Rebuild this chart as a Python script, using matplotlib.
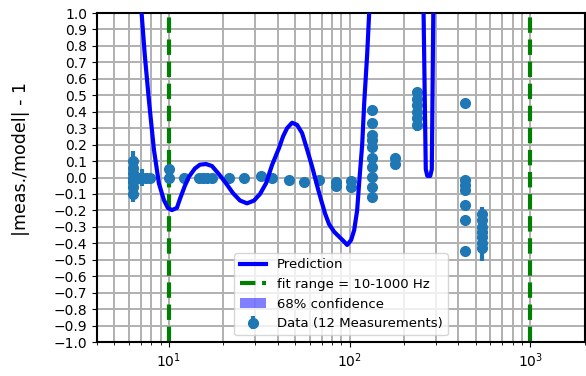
import matplotlib
matplotlib.use("Agg")
import matplotlib.pyplot as plt
from matplotlib.ticker import MultipleLocator

# prediction curve (Hz, |meas./model| - 1)
pred_freq = [6.82, 7.06, 7.36, 7.75, 8.26, 8.80, 9.38, 9.87, 10.39, 11.07,
             11.51, 12.26, 12.91, 13.93, 14.85, 16.03, 17.30, 18.92, 20.69, 22.62,
             24.74, 27.05, 29.58, 31.93, 34.47, 37.21, 40.69, 42.82, 45.06, 48.02,
             51.19, 54.56, 58.15, 61.98, 66.06, 69.52, 73.16, 77.0, 82.07, 87.47,
             93.22, 96.85, 101.9, 105.9, 110.0, 112.9, 117.3, 120.3, 125.0, 128.2,
             134.9, 190.0, 248.9, 256.4, 263.7, 268.8, 279.3, 284.7, 290.2, 297.7]
pred_val = [1.20, 1.00, 0.74, 0.47, 0.17, -0.035, -0.137, -0.185, -0.198, -0.185,
            -0.13, -0.05, 0.005, 0.055, 0.078, 0.082, 0.07, 0.02, -0.035, -0.095,
            -0.14, -0.157, -0.14, -0.10, -0.035, 0.076, 0.18, 0.25, 0.30, 0.333,
            0.32, 0.27, 0.17, 0.066, -0.05, -0.137, -0.22, -0.285, -0.33, -0.36,
            -0.39, -0.41, -0.38, -0.32, -0.2, -0.03, 0.2, 0.45, 0.75, 1.0,
            1.5, 3.0, 1.5, 1.0, 0.05, 0.01, 0.01, 0.05, 1.0, 1.5]

# measurements
data_freq = [6.32, 6.32, 6.32, 6.32, 6.32, 6.32, 6.32,
             6.75, 7.1, 7.5, 7.9, 10.0, 10.0,
             12.1, 14.7, 15.5, 16.3, 17.3, 21.5, 26.0, 32.3, 37.2, 46.2,
             56.0, 67.8, 84.2, 84.2, 102, 102,
             133, 133, 133, 133, 133, 133, 133, 133, 133, 133,
             178, 178,
             237, 237, 237, 237, 237, 237,
             435, 435, 435, 435, 435, 435, 435,
             542, 542, 542, 542, 542, 542, 542]
data_val = [0.10, 0.06, 0.03, 0.0, -0.03, -0.06, -0.10,
            0.0, 0.0, -0.005, 0.0, 0.05, 0.0,
            0.0, -0.005, -0.005, -0.005, -0.005, 0.0, 0.0, 0.01, 0.0, -0.015,
            -0.025, -0.015, -0.03, -0.05, -0.02, -0.055,
            0.41, 0.33, 0.258, 0.228, 0.187, 0.117, 0.066, 0.005, -0.056, -0.117,
            0.12, 0.08,
            0.52, 0.48, 0.44, 0.40, 0.36, 0.32,
            0.45, -0.015, -0.045, -0.075, -0.167, -0.258, -0.445,
            -0.22, -0.26, -0.30, -0.33, -0.36, -0.40, -0.43]
data_err = [0.06, 0.02, 0.02, 0.02, 0.02, 0.02, 0.05,
            0.03, 0.05, 0.02, 0.01, 0.02, 0.01,
            0.01, 0.01, 0.01, 0.01, 0.01, 0.01, 0.01, 0.01, 0.01, 0.01,
            0.01, 0.01, 0.01, 0.01, 0.01, 0.01,
            0.01, 0.01, 0.01, 0.01, 0.01, 0.01, 0.01, 0.01, 0.01, 0.01,
            0.01, 0.01,
            0.02, 0.02, 0.02, 0.02, 0.03, 0.04,
            0.01, 0.01, 0.01, 0.01, 0.01, 0.01, 0.01,
            0.04, 0.02, 0.02, 0.02, 0.02, 0.02, 0.08]

fit_range = [10, 1000]

fig = plt.figure(figsize=(5.86, 3.76), dpi=100)
ax = fig.add_axes([0.1655, 0.0904, 0.8325, 0.875])

ax.plot(pred_freq, pred_val, color="blue", lw=3, label="Prediction", zorder=4)
ax.axvline(fit_range[0], color="green", ls="--", lw=3,
           label="fit range = %d-%d Hz" % (fit_range[0], fit_range[1]))
ax.axvline(fit_range[1], color="green", ls="--", lw=3)
ax.fill_between(pred_freq, pred_val, pred_val, color="blue", alpha=0.5,
                lw=0, label="68% confidence")
ax.errorbar(data_freq, data_val, yerr=data_err, fmt="o", color="C0", ms=7,
            elinewidth=3, capsize=0, label="Data (12 Measurements)", zorder=3)

ax.set_xscale("log")
ax.set_xlim(4, 2000)
ax.set_ylim(-1, 1)
ax.yaxis.set_major_locator(MultipleLocator(0.1))
ax.grid(True, which="both", color="#b0b0b0", lw=1.4)
ax.set_axisbelow(True)
for s in ax.spines.values():
    s.set_linewidth(1.5)
ax.tick_params(labelsize=10)
ax.set_ylabel("|meas./model| - 1", fontsize=12.5)
ax.yaxis.set_label_coords(-0.137, 0.555)
ax.legend(loc="lower center", fontsize=9.5).set_zorder(5)

fig.savefig("out.png", dpi=100)
